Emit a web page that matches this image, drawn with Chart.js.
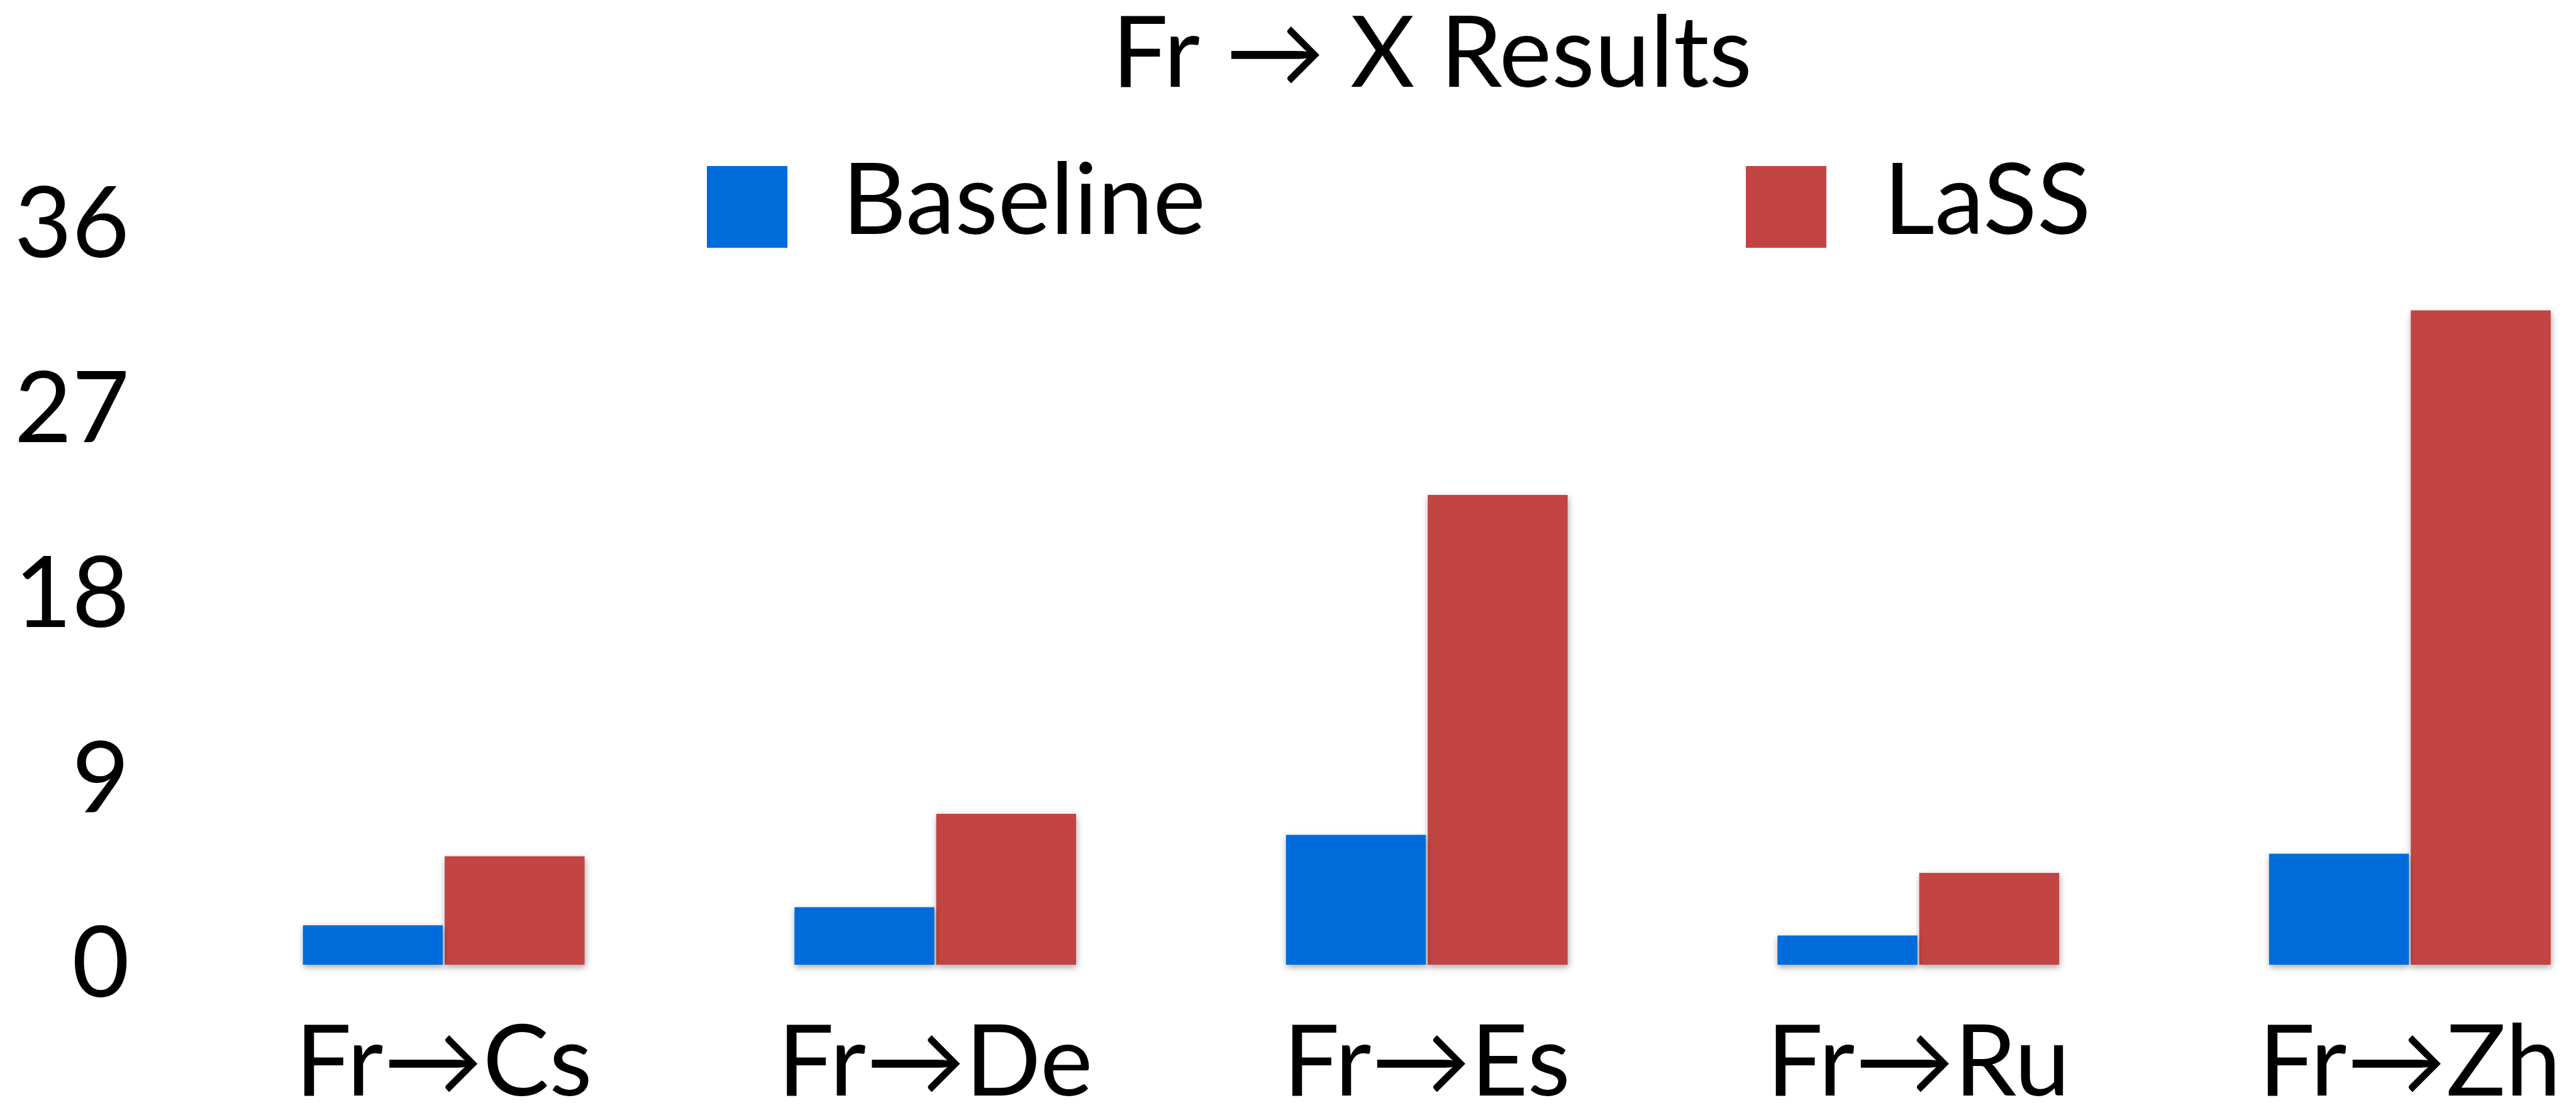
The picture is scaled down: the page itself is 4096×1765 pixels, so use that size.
<!DOCTYPE html>
<html>
<head>
<meta charset="UTF-8">
<title>Fr → X Results</title>
<script src="https://cdn.jsdelivr.net/npm/chart.js@4.4.1/dist/chart.umd.min.js"></script>
<style>
  html, body { margin: 0; padding: 0; background: #fff; overflow: hidden; }
</style>
</head>
<body>
<canvas id="myChart" width="4096" height="1765"></canvas>
<script>
// values
var pairs = ['Fr→Cs', 'Fr→De', 'Fr→Es', 'Fr→Ru', 'Fr→Zh'];
var baseline = [1.92, 2.80, 6.32, 1.42, 5.40];
var lass = [5.28, 7.35, 22.87, 4.47, 31.85];
var yTicks = [0, 9, 18, 27, 36];

var fontFamily = 'Lato, "DejaVu Sans", sans-serif';
var fontSize = 158;

// bars sit on a linear x axis so the plot can run wider than the bar groups
function points(values) {
    return values.map(function (v, i) { return { x: i, y: v }; });
}

// title and legend are placed by hand, like in the original
var header = {
    id: 'header',
    afterDraw: function (chart) {
        var ctx = chart.ctx;
        ctx.save();
        ctx.font = fontSize + 'px ' + fontFamily;
        ctx.fillStyle = '#000';
        ctx.textBaseline = 'alphabetic';
        ctx.textAlign = 'center';
        ctx.fillText('Fr → X Results', 2277, 138);

        var spots = [{ box: 1124, text: 1339 }, { box: 2776, text: 2995 }];
        ctx.textAlign = 'left';
        chart.data.datasets.forEach(function (ds, i) {
            ctx.fillStyle = ds.backgroundColor;
            ctx.fillRect(spots[i].box, 264, 128, 130);
            ctx.fillStyle = '#000';
            ctx.fillText(ds.label, spots[i].text, 372);
        });
        ctx.restore();
    }
};

// soft drop shadow under the bars
var barShadow = {
    id: 'barShadow',
    beforeDatasetsDraw: function (chart) {
        var ctx = chart.ctx;
        ctx.save();
        ctx.shadowColor = 'rgba(0, 0, 0, 0.35)';
        ctx.shadowBlur = 10;
        ctx.shadowOffsetX = 1;
        ctx.shadowOffsetY = 4;
    },
    afterDatasetsDraw: function (chart) {
        chart.ctx.restore();
    }
};

var ctx = document.getElementById('myChart').getContext('2d');
var chart = new Chart(ctx, {
    type: 'bar',
    data: {
        datasets: [
            {
                label: 'Baseline',
                data: points(baseline),
                backgroundColor: '#006cdb',
                clip: false
            },
            {
                label: 'LaSS',
                data: points(lass),
                backgroundColor: '#c34543',
                clip: false
            }
        ]
    },
    options: {
        responsive: false,
        animation: false,
        events: [],
        categoryPercentage: 0.5768,
        barPercentage: 0.987,
        layout: { padding: { top: 358, left: 0, right: 0, bottom: 0 } },
        plugins: {
            legend: { display: false },
            title: { display: false },
            tooltip: { enabled: false }
        },
        scales: {
            x: {
                type: 'linear',
                offset: false,
                min: -0.6085,
                max: 4.338,
                grid: { display: false, drawTicks: false, offset: false },
                border: { display: false },
                afterBuildTicks: function (scale) {
                    scale.ticks = pairs.map(function (p, i) { return { value: i }; });
                },
                afterFit: function (scale) {
                    scale.height = 231;
                    scale.paddingLeft = 0;
                    scale.paddingRight = 0;
                },
                ticks: {
                    padding: 62,
                    color: '#000',
                    font: { size: fontSize, family: fontFamily },
                    maxRotation: 0,
                    autoSkip: false,
                    callback: function (value) { return pairs[value]; }
                }
            },
            y: {
                min: 0,
                max: 36,
                grid: { display: false, drawTicks: false },
                border: { display: false },
                afterBuildTicks: function (scale) {
                    scale.ticks = yTicks.map(function (v) { return { value: v }; });
                },
                afterFit: function (scale) { scale.width = 230; },
                ticks: {
                    padding: 24,
                    color: '#000',
                    font: { size: fontSize, family: fontFamily }
                }
            }
        }
    },
    plugins: [barShadow, header]
});
</script>
</body>
</html>
